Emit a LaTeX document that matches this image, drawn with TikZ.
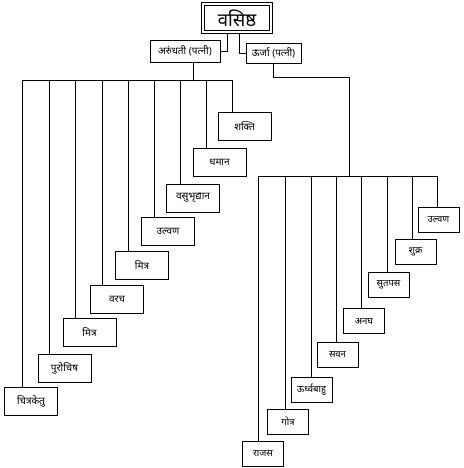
\documentclass[tikz,border=0pt]{standalone}
\usepackage{fontspec}
\newfontfamily\deva[Script=Devanagari]{Noto Sans}
\begin{document}
\begin{tikzpicture}[x=1pt,y=-1pt,line width=0.8pt,
  lbox/.style={draw,rectangle,inner sep=0pt,minimum width=53pt,minimum height=28pt,font=\deva\fontsize{10}{12}\selectfont},
  rbox/.style={draw,rectangle,inner sep=0pt,minimum width=41pt,minimum height=25pt,font=\deva\fontsize{9.5}{11}\selectfont},
  wbox/.style={draw,rectangle,inner sep=0pt,font=\deva\fontsize{10}{12}\selectfont},
  link/.style={draw,line width=0.7pt}]
\useasboundingbox (0,0) rectangle (463,468);
% top
\node[draw,double,double distance=1.8pt,line width=0.9pt,inner sep=0pt,minimum width=68pt,minimum height=28pt,font=\deva\bfseries\fontsize{18.5}{20}\selectfont] (vas) at (237,18) {वसिष्ठ};
\node[wbox,minimum width=70pt,minimum height=22pt] (aru) at (185,51) {अरुंधती (पत्नी)};
\node[wbox,minimum width=55pt,minimum height=20pt] (urj) at (273.5,53) {ऊर्जा (पत्नी)};
\coordinate (vl) at (227,33);
\coordinate (vr) at (239,33);
\draw[link] (vl) |- (aru.east);
\draw[link] (vr) |- (urj.west);
% Arundhati sons
\node[lbox] (a1) at (244.5,126) {शक्ति};
\node[lbox] (a2) at (219.5,162) {धमान};
\node[lbox] (a3) at (193,198) {वसुभृद्यान};
\node[lbox] (a4) at (168,231.5) {उल्वण};
\node[lbox] (a5) at (142,265) {मित्र};
\node[lbox] (a6) at (117,299.5) {वरच};
\node[lbox] (a7) at (89.5,332.5) {मित्र};
\node[lbox] (a8) at (64.5,368) {पुरोचिष};
\node[lbox] (a9) at (31,401) {चित्रकेतु};
\coordinate (ab) at (193,80);
\draw[link] (aru.south -| ab) -- (ab);
\coordinate (b1) at (232,80);
\coordinate (b2) at (206,80);
\coordinate (b3) at (180,80);
\coordinate (b4) at (154,80);
\coordinate (b5) at (128,80);
\coordinate (b6) at (102,80);
\coordinate (b7) at (75,80);
\coordinate (b8) at (49,80);
\coordinate (b9) at (22,80);
\draw[link] (b9) -- (b1);
\foreach \i in {1,...,9}{\draw[link] (b\i) -- (b\i |- a\i.north);}
% Urja sons
\node[rbox] (u1) at (438.5,219.5) {उल्वण};
\node[rbox] (u2) at (415.5,251.5) {शुक्र};
\node[rbox] (u3) at (388.5,285) {सुतपस};
\node[rbox] (u4) at (364,321) {अनघ};
\node[rbox] (u5) at (337.5,355) {सवन};
\node[rbox] (u6) at (311.5,390) {ऊर्ध्वबाहु};
\node[rbox] (u7) at (288,421.5) {गोत्र};
\node[rbox] (u8) at (263,454) {राजस};
\coordinate (uk) at (273,77);
\coordinate (uj) at (349,176);
\draw[link] (urj.south -| uk) -- (uk) -| (uj);
\coordinate (c1) at (437,176);
\coordinate (c2) at (412,176);
\coordinate (c3) at (387,176);
\coordinate (c4) at (361,176);
\coordinate (c5) at (336,176);
\coordinate (c6) at (311,176);
\coordinate (c7) at (285,176);
\coordinate (c8) at (258,176);
\draw[link] (c8) -- (c1);
\foreach \i in {1,...,8}{\draw[link] (c\i) -- (c\i |- u\i.north);}
\end{tikzpicture}
\end{document}
